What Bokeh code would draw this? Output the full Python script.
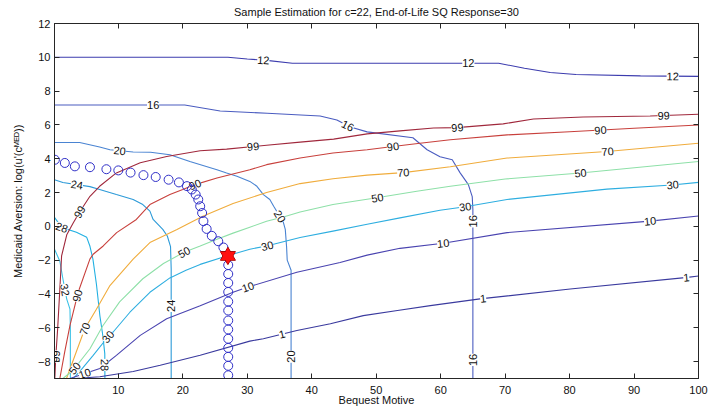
import math
from bokeh.plotting import figure
from bokeh.models import Range1d, FixedTicker, LinearAxis, ColumnDataSource
from bokeh.core.properties import value
from bokeh.embed import file_html
from bokeh.resources import INLINE

TITLE = "Sample Estimation for c=22, End-of-Life SQ Response=30"
X_LABEL = "Bequest Motive"
Y_LABEL = "Medicaid Aversion: log(u'(c\u1d39\u1d31\u1d30))"
X_TICKS = [10, 20, 30, 40, 50, 60, 70, 80, 90, 100]
Y_TICKS = [-8, -6, -4, -2, 0, 2, 4, 6, 8, 10, 12]

# ---- contour family A (levels 12..32) ----
A12_X = [0.1, 27, 30, 33, 37, 69, 73, 77, 81, 91, 100]
A12_Y = [10.0, 10.0, 9.9, 9.82, 9.65, 9.65, 9.35, 9.1, 8.98, 8.9, 8.87]
A16_X = [0.1, 20.3, 25.8, 33.1, 41.3, 43.9, 46.0, 48.6, 55.7, 57.9, 59.9, 61.8, 63.0, 64.3, 64.9, 65.0, 65.0]
A16_Y = [7.18, 7.18, 6.82, 6.69, 6.53, 6.29, 5.88, 5.59, 5.24, 4.53, 4.12, 3.94, 3.18, 2.47, 1.76, 1.0, -9.0]
A20_X = [0.1, 4.0, 7.1, 8.7, 12.3, 15.0, 18.0, 21.1, 25.3, 26.8, 28.4, 30.4, 31.5, 32.5, 33.5, 34.1, 35.6, 35.9, 36.1, 36.2, 36.8, 36.8]
A20_Y = [4.96, 4.96, 4.69, 4.53, 4.40, 4.38, 4.24, 3.84, 3.35, 3.16, 2.96, 2.66, 2.37, 1.88, 1.59, 1.19, 0.24, -0.18, -1.2, -2.0, -2.6, -9.0]
A24_X = [0.1, 1.4, 5.6, 7.1, 9.7, 12.3, 13.8, 14.9, 15.4, 16.9, 17.6, 18.1, 18.2, 18.2]
A24_Y = [2.76, 2.59, 2.35, 2.18, 1.88, 1.59, 1.29, 0.9, 0.41, -0.18, -0.57, -1.2, -2.5, -9.0]
A28_X = [0.1, 1.2, 3.5, 5.1, 5.6, 6.06, 6.6, 7.14, 7.6, 7.9, 7.92]
A28_Y = [0.53, -0.06, -0.35, -0.65, -1.18, -1.94, -3.41, -5.29, -6.47, -7.53, -9.0]
A32_X = [0.1, 0.93, 1.4, 2.0, 2.5, 2.56, 2.56]
A32_Y = [-1.35, -2.06, -3.1, -4.3, -4.9, -6.0, -9.0]

# ---- contour family B (levels 1..99) ----
B99_X = [0.15, 0.3, 0.6, 0.93, 1.2, 2.0, 3.0, 4.0, 5.6, 7.1, 9.7, 13.4, 17.5, 22.7, 26.8, 33.0, 38.2, 43.4, 48.6, 53.7, 58.9, 62.5, 69.7, 74.4, 82.1, 92.5, 100]
B99_Y = [-9.0, -7.7, -6.0, -3.7, -1.75, -0.5, 0.2, 0.85, 1.78, 2.37, 3.16, 3.76, 4.13, 4.47, 4.57, 4.80, 4.98, 5.16, 5.47, 5.65, 5.82, 5.84, 6.06, 6.35, 6.47, 6.53, 6.63]
B90_X = [0.93, 1.7, 2.5, 3.77, 5.59, 6.1, 7.66, 9.74, 12.8, 14.9, 18.0, 20.0, 21.9, 25.3, 30.4, 33.0, 38.2, 43.3, 48.6, 52.6, 56.8, 61.5, 70.3, 80.0, 90.0, 100]
B90_Y = [-9.0, -7.4, -5.86, -3.9, -1.94, -1.65, -1.16, -0.37, 0.41, 1.29, 1.88, 2.18, 2.47, 2.86, 3.35, 3.65, 4.04, 4.34, 4.53, 4.72, 4.92, 5.12, 5.41, 5.6, 5.8, 6.0]
B70_X = [1.96, 3.5, 4.8, 6.6, 8.7, 12.3, 14.9, 19.1, 23.1, 27.8, 33.0, 38.2, 43.3, 48.6, 54.2, 61.5, 70.3, 85.8, 100]
B70_Y = [-9.0, -7.4, -6.06, -4.9, -3.5, -1.94, -0.96, -0.18, 0.6, 1.35, 2.0, 2.53, 2.82, 3.03, 3.18, 3.53, 4.04, 4.43, 4.92]
B50_X = [1.4, 2.95, 5.6, 7.6, 10.2, 13.8, 17.0, 20.2, 22.7, 25.3, 27.8, 30.4, 33.0, 35.6, 38.2, 43.3, 50.1, 56.3, 61.5, 70.0, 81.7, 100]
B50_Y = [-9.0, -8.53, -7.24, -5.88, -4.47, -3.1, -2.2, -1.53, -1.16, -0.76, -0.4, -0.05, 0.3, 0.55, 0.85, 1.29, 1.69, 2.08, 2.37, 2.8, 3.16, 3.84]
B30_X = [3.0, 4.0, 6.1, 8.4, 9.2, 11.8, 14.9, 18.0, 20.5, 22.7, 26.8, 30.4, 33.0, 38.2, 43.3, 48.6, 53.7, 59.9, 63.8, 70.3, 85.8, 95.9, 100]
B30_Y = [-9.0, -8.59, -7.63, -6.53, -6.25, -5.08, -3.9, -3.05, -2.6, -2.25, -1.75, -1.35, -1.16, -0.66, -0.28, 0.12, 0.5, 0.95, 1.16, 1.59, 2.2, 2.45, 2.6]
B10_X = [2.5, 4.8, 7.14, 9.7, 13.4, 17.5, 22.7, 27.8, 30.1, 37.7, 44.4, 48.6, 53.7, 60.4, 70.3, 92.5, 100]
B10_Y = [-9.0, -8.7, -8.41, -7.63, -6.45, -5.47, -4.69, -3.9, -3.59, -2.72, -2.14, -1.7, -1.3, -1.0, -0.37, 0.31, 0.61]
B1_X = [3.26, 7.14, 12.3, 16.5, 22.7, 30.4, 32.5, 37.7, 42.9, 48.0, 53.3, 58.4, 66.1, 80.1, 98.3, 100]
B1_Y = [-9.0, -8.9, -8.59, -8.22, -7.63, -6.79, -6.65, -6.16, -5.76, -5.28, -4.98, -4.69, -4.29, -3.71, -3.02, -2.94]

CONTOURS = {
    "12": (A12_X, A12_Y), "16": (A16_X, A16_Y), "20": (A20_X, A20_Y),
    "24": (A24_X, A24_Y), "28": (A28_X, A28_Y), "32": (A32_X, A32_Y),
    "99": (B99_X, B99_Y), "90": (B90_X, B90_Y), "70": (B70_X, B70_Y),
    "50": (B50_X, B50_Y), "30b": (B30_X, B30_Y), "10": (B10_X, B10_Y),
    "1": (B1_X, B1_Y),
}
COLORS = {
    "12": "#3c3cae", "16": "#4a5cc0", "20": "#4a84d2", "24": "#2c9ad8",
    "28": "#22b0e2", "32": "#3cc2e6",
    "99": "#a0283c", "90": "#c8403c", "70": "#f0ac3c", "50": "#8ee0a8",
    "30b": "#2eaee0", "10": "#4a44b0", "1": "#3a3a9e",
}

# ---- inline contour labels: (contour key, x, y) ----
LABEL_KEY = ["12", "12", "12", "16", "16", "16", "16", "20", "20", "20", "24", "24", "28", "28", "32",
             "99", "99", "99", "99", "99", "90", "90", "90", "90", "70", "70", "70",
             "50", "50", "50", "50", "30b", "30b", "30b", "30b", "10", "10", "10", "10", "1", "1", "1"]
LABEL_X = [32.5, 64.3, 96.0, 15.4, 45.6, 65.0, 65.0, 10.2, 35.1, 36.8, 3.57, 18.2, 1.24, 7.9, 1.7,
           0.3, 4.0, 30.9, 62.6, 94.6, 3.6, 21.9, 52.6, 84.8, 4.8, 54.2, 85.9,
           3.26, 20.2, 50.2, 81.7, 8.4, 33.1, 63.8, 96.0, 4.8, 30.1, 60.4, 92.5, 35.4, 66.6, 98.1]
LABEL_Y = [9.83, 9.65, 8.88, 7.18, 5.95, 0.3, -7.9, 4.44, 0.59, -7.7, 2.45, -4.7, -0.06, -8.2, -3.76,
           -7.7, 0.85, 4.7, 5.84, 6.55, -4.1, 2.47, 4.72, 5.7, -6.06, 3.18, 4.43,
           -8.4, -1.53, 1.69, 3.16, -6.53, -1.16, 1.16, 2.45, -8.7, -3.59, -1.0, 0.31, -6.4, -4.29, -3.0]

# ---- estimation path (circles) and estimate (star) ----
CIRC_X = [0.16, 1.7, 3.26, 5.6, 8.15, 10.0, 11.9, 13.9, 15.8, 17.8, 19.4, 20.65, 21.4, 22.0, 22.4, 22.7,
          23.0, 23.2, 23.7, 24.5, 25.5, 26.3, 27.0, 27.05, 27.05, 27.05, 27.05, 27.05, 27.05, 27.05,
          27.05, 27.05, 27.05, 27.05, 27.05, 27.05]
CIRC_Y = [3.94, 3.75, 3.55, 3.5, 3.38, 3.31, 3.18, 3.03, 2.92, 2.76, 2.6, 2.38, 2.18, 1.88, 1.59, 1.19,
          0.79, 0.31, -0.15, -0.56, -0.88, -1.25, -1.75, -2.29, -2.82, -3.35, -3.88, -4.45, -4.98, -5.57,
          -6.1, -6.65, -7.19, -7.72, -8.25, -8.81]
STAR_X = [27.0]
STAR_Y = [-1.75]

XMIN, XMAX, YMIN, YMAX = 0.1, 100, -9, 12
W, H = 710, 408
ML, MR, MT, MB = 54, 12, 23, 28

FONT = "Liberation Sans"
AX = "#262626"

p = figure(width=W, height=H, x_range=Range1d(XMIN, XMAX), y_range=Range1d(YMIN, YMAX),
           output_backend="svg", toolbar_location=None,
           min_border_left=ML, min_border_right=MR, min_border_top=MT, min_border_bottom=MB)
p.title.text = TITLE
p.title.align = "center"
p.title.vertical_align = "top"
p.title.text_font = FONT
p.title.text_font_size = "11px"
p.title.text_font_style = "normal"
p.title.text_color = "#111111"
p.title.standoff = 8
p.grid.visible = False
p.outline_line_color = AX
p.background_fill_color = "white"

for ax in (p.xaxis[0], p.yaxis[0]):
    ax.major_tick_in = 5
    ax.major_tick_out = 0
    ax.minor_tick_line_color = None
    ax.axis_line_color = AX
    ax.major_tick_line_color = AX
    ax.major_label_text_font = FONT
    ax.major_label_text_font_size = "11px"
    ax.major_label_text_color = "#111111"
    ax.axis_label_text_font = FONT
    ax.axis_label_text_font_size = "11px"
    ax.axis_label_text_font_style = "normal"
    ax.axis_label_text_color = "#111111"
p.xaxis[0].ticker = FixedTicker(ticks=X_TICKS)
p.yaxis[0].ticker = FixedTicker(ticks=Y_TICKS)
p.xaxis[0].axis_label = X_LABEL
p.yaxis[0].axis_label = Y_LABEL
p.xaxis[0].major_label_standoff = 7
p.xaxis[0].axis_label_standoff = -3
p.yaxis[0].major_label_standoff = 4
p.yaxis[0].axis_label_standoff = 11

# mirrored tick marks on top and right
top = LinearAxis(ticker=FixedTicker(ticks=X_TICKS), major_tick_in=5, major_tick_out=0,
                 minor_tick_line_color=None, axis_line_color=AX, major_tick_line_color=AX,
                 major_label_overrides={t: "" for t in X_TICKS}, major_label_text_font_size="1px",
                 major_label_standoff=0)
right = LinearAxis(ticker=FixedTicker(ticks=Y_TICKS), major_tick_in=5, major_tick_out=0,
                   minor_tick_line_color=None, axis_line_color=AX, major_tick_line_color=AX,
                   major_label_overrides={t: "" for t in Y_TICKS}, major_label_text_font_size="1px",
                   major_label_standoff=0)
p.add_layout(top, "above")
p.add_layout(right, "right")

# contour lines
for key, (xs, ys) in CONTOURS.items():
    p.line(xs, ys, line_color=COLORS[key], line_width=1.1)

# label placement: snap to own contour & rotate along it (screen space)
fw = W - ML - MR
fh = H - MT - MB - 1
sx = fw / (XMAX - XMIN)
sy = fh / (YMAX - YMIN)
lx, ly, lt, la = [], [], [], []
for key, x0, y0 in zip(LABEL_KEY, LABEL_X, LABEL_Y):
    xs, ys = CONTOURS[key]
    best = None
    for i in range(len(xs) - 1):
        ax_, ay_ = xs[i] * sx, ys[i] * sy
        bx_, by_ = xs[i + 1] * sx, ys[i + 1] * sy
        px_, py_ = x0 * sx, y0 * sy
        dx, dy = bx_ - ax_, by_ - ay_
        L2 = dx * dx + dy * dy
        t = 0.0 if L2 == 0 else max(0.0, min(1.0, ((px_ - ax_) * dx + (py_ - ay_) * dy) / L2))
        qx, qy = ax_ + t * dx, ay_ + t * dy
        d = (qx - px_) ** 2 + (qy - py_) ** 2
        if best is None or d < best[0]:
            best = (d, qx / sx, qy / sy, math.atan2(dy, dx))
    _, qx, qy, ang = best
    if ang > math.pi / 2:
        ang -= math.pi
    if ang <= -math.pi / 2:
        ang += math.pi
    lx.append(qx); ly.append(qy); lt.append(key.rstrip("b")); la.append(ang)

lab_src = ColumnDataSource(dict(x=lx, y=ly, text=lt, angle=la))
p.text(x="x", y="y", text="text", angle="angle", source=lab_src,
       text_align="center", text_baseline="middle", text_font=value(FONT),
       text_font_size="11px", text_color="#111111",
       background_fill_color="white", background_fill_alpha=1.0)

# estimation path
p.scatter(CIRC_X, CIRC_Y, marker="circle", size=9, fill_color=None,
          line_color="#3030c8", line_width=1)
# hexagram star
p.scatter(STAR_X, STAR_Y, marker="triangle", size=15, fill_color="#ff1010", line_color="#a00000", line_width=1)
p.scatter(STAR_X, STAR_Y, marker="inverted_triangle", size=15, fill_color="#ff1010", line_color="#a00000", line_width=1)
p.scatter(STAR_X, STAR_Y, marker="triangle", size=14, fill_color="#ff1010", line_color=None)
p.scatter(STAR_X, STAR_Y, marker="inverted_triangle", size=14, fill_color="#ff1010", line_color=None)

open("out.html", "w").write(file_html(p, INLINE))
